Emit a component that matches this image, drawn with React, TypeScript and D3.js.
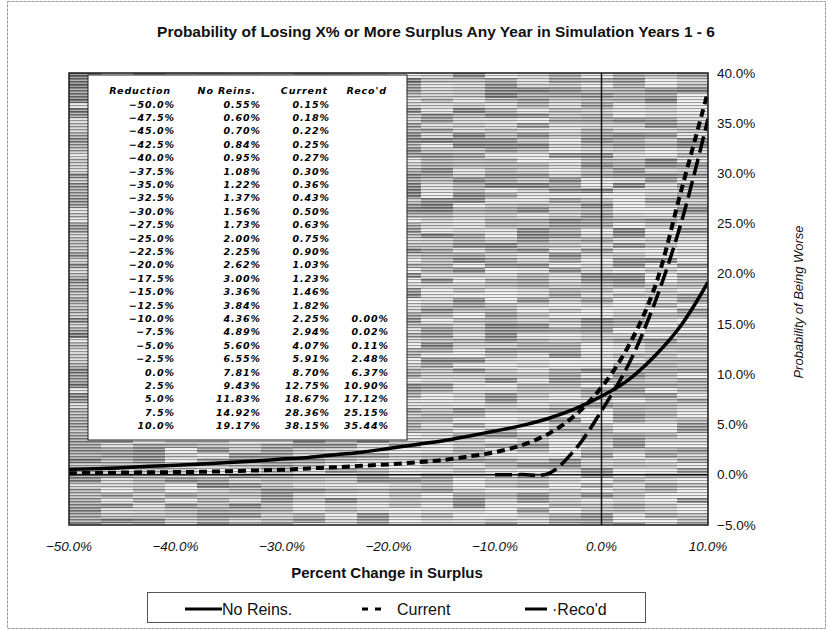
import React from "react";
import * as d3 from "d3";

// Percent change in surplus (x) and probability of a loss at least that large (y)
const reduction: number[] = [
  -50, -47.5, -45, -42.5, -40, -37.5, -35, -32.5, -30, -27.5, -25, -22.5, -20,
  -17.5, -15, -12.5, -10, -7.5, -5, -2.5, 0, 2.5, 5, 7.5, 10,
];
const noReins: number[] = [
  0.55, 0.6, 0.7, 0.84, 0.95, 1.08, 1.22, 1.37, 1.56, 1.73, 2.0, 2.25, 2.62,
  3.0, 3.36, 3.84, 4.36, 4.89, 5.6, 6.55, 7.81, 9.43, 11.83, 14.92, 19.17,
];
const current: number[] = [
  0.15, 0.18, 0.22, 0.25, 0.27, 0.3, 0.36, 0.43, 0.5, 0.63, 0.75, 0.9, 1.03,
  1.23, 1.46, 1.82, 2.25, 2.94, 4.07, 5.91, 8.7, 12.75, 18.67, 28.36, 38.15,
];
const recod: (number | null)[] = [
  null, null, null, null, null, null, null, null, null, null, null, null, null,
  null, null, null, 0.0, 0.02, 0.11, 2.48, 6.37, 10.9, 17.12, 25.15, 35.44,
];

const xTicks: number[] = [-50, -40, -30, -20, -10, 0, 10];
const yTicks: number[] = [-5, 0, 5, 10, 15, 20, 25, 30, 35, 40];
const tableHeaders: string[] = ["Reduction", "No Reins.", "Current", "Reco'd"];
const seriesNames: string[] = ["No Reins.", "Current", "Reco'd"];

const W = 827;
const H = 630;
const plot = { left: 69, right: 708, top: 73, bottom: 525 };

const x = d3.scaleLinear().domain([-50, 10]).range([plot.left, plot.right]);
const y = d3.scaleLinear().domain([-5, 40]).range([plot.bottom, plot.top]);

const pct1 = (v: number) => d3.format(".1f")(v) + "%";
const pct2 = (v: number) => d3.format(".2f")(v) + "%";

// deterministic hash for the mottled plot fill
const hash = (i: number, j: number) => {
  const s = Math.sin(i * 12.9898 + j * 78.233) * 43758.5453;
  return s - Math.floor(s);
};

function Texture() {
  const cw = 32;
  const ch = 5;
  const cells: JSX.Element[] = [];
  const cols = Math.ceil((plot.right - plot.left) / cw);
  const rows = Math.ceil((plot.bottom - plot.top) / ch);
  for (let i = 0; i < cols; i++) {
    for (let j = 0; j < rows; j++) {
      const h = hash(i, j);
      const cy = plot.top + j * ch;
      const cx = plot.left + i * cw;
      // lighter toward the lower right
      const fade =
        ((cx - plot.left) / (plot.right - plot.left)) * 0.3 +
        ((cy - plot.top) / (plot.bottom - plot.top)) * 0.35;
      const g = Math.round(105 + h * 120 + fade * 60);
      const gv = Math.min(235, g);
      cells.push(
        <rect
          key={`${i}-${j}`}
          x={cx}
          y={cy}
          width={Math.min(cw, plot.right - cx)}
          height={Math.min(ch, plot.bottom - cy)}
          fill={`rgb(${gv},${gv},${gv})`}
        />
      );
    }
  }
  return (
    <g>
      {cells}
      <rect
        x={plot.left}
        y={plot.top}
        width={plot.right - plot.left}
        height={plot.bottom - plot.top}
        fill="url(#scanlines)"
      />
    </g>
  );
}

export default function App() {
  const pts = (vals: (number | null)[]) =>
    reduction
      .map((r, i) => ({ r, v: vals[i] }))
      .filter((d) => d.v !== null) as { r: number; v: number }[];

  const line = d3
    .line<{ r: number; v: number }>()
    .x((d) => x(d.r))
    .y((d) => y(d.v))
    .curve(d3.curveCatmullRom.alpha(0.5));

  const rowY0 = 107.5;
  const rowStep = 13.4;
  const colRight = [175, 261, 330, 389];
  const headRight = [171, 256, 328, 387];

  return (
    <svg
      width={W}
      height={H}
      viewBox={`0 0 ${W} ${H}`}
      style={{ position: "absolute", left: 0, top: 0, background: "#fff" }}
      fontFamily="'Liberation Sans', Arial, sans-serif"
    >
      <defs>
        <pattern id="scanlines" patternUnits="userSpaceOnUse" width="6" height="3">
          <rect x="0" y="0" width="6" height="1" fill="#2a2a2a" opacity="0.4" />
          <rect x="0" y="2" width="6" height="1" fill="#ffffff" opacity="0.4" />
        </pattern>
        <clipPath id="plotClip">
          <rect x={plot.left} y={plot.top - 2} width={plot.right - plot.left} height={plot.bottom - plot.top + 2} />
        </clipPath>
      </defs>

      <rect x={7.5} y={1.5} width={818} height={627} fill="none" stroke="#9a9a9a" strokeWidth={1} strokeDasharray="3 1" />

      <text x={436} y={37} textAnchor="middle" fontSize={15.5} fontWeight="bold" fill="#111">
        Probability of Losing X% or More Surplus Any Year in Simulation Years 1 - 6
      </text>

      <Texture />

      {/* zero reference lines */}
      <line x1={plot.left} x2={plot.right} y1={y(0)} y2={y(0)} stroke="#111" strokeWidth={1.5} />
      <line x1={x(0)} x2={x(0)} y1={plot.top} y2={plot.bottom} stroke="#111" strokeWidth={1.5} />

      <g clipPath="url(#plotClip)">
        <path d={line(pts(noReins)) || ""} fill="none" stroke="#000" strokeWidth={3.5} />
        <path d={line(pts(current)) || ""} fill="none" stroke="#000" strokeWidth={4} strokeDasharray="8 5" />
        <path d={line(pts(recod)) || ""} fill="none" stroke="#000" strokeWidth={3.5} strokeDasharray="17 6" />
      </g>

      <rect
        x={plot.left}
        y={plot.top}
        width={plot.right - plot.left}
        height={plot.bottom - plot.top}
        fill="none"
        stroke="#1a1a1a"
        strokeWidth={1.5}
      />

      {/* data table */}
      <g>
        <rect x={88} y={75} width={319} height={365} fill="#fff" stroke="#222" strokeWidth={1} />
        <g
          fontFamily="'DejaVu Sans', sans-serif"
          fontSize={9.5}
          fontWeight="bold"
          fontStyle="italic"
          letterSpacing={0.9}
          fill="#000"
          textAnchor="end"
        >
          {tableHeaders.map((h, c) => (
            <text key={h} x={headRight[c]} y={93.5}>
              {h}
            </text>
          ))}
          {reduction.map((r, i) => {
            const yy = rowY0 + i * rowStep;
            return (
              <g key={r}>
                <text x={colRight[0]} y={yy}>{pct1(r)}</text>
                <text x={colRight[1]} y={yy}>{pct2(noReins[i])}</text>
                <text x={colRight[2]} y={yy}>{pct2(current[i])}</text>
                {recod[i] !== null && <text x={colRight[3]} y={yy}>{pct2(recod[i] as number)}</text>}
              </g>
            );
          })}
        </g>
      </g>

      {/* y axis (right side) */}
      <g fontSize={13.5} fill="#111">
        {yTicks.map((t) => (
          <text key={t} x={717} y={y(t) + 4.5}>
            {pct1(t)}
          </text>
        ))}
      </g>
      <text
        transform={`translate(803,302) rotate(-90)`}
        textAnchor="middle"
        fontSize={13}
        fontStyle="italic"
        fill="#111"
      >
        Probability of Being Worse
      </text>

      {/* x axis */}
      <g fontSize={13.5} fontStyle="italic" fill="#111" textAnchor="middle">
        {xTicks.map((t) => (
          <text key={t} x={x(t)} y={551}>
            {pct1(t)}
          </text>
        ))}
      </g>
      <text x={387} y={578} textAnchor="middle" fontSize={15} fontWeight="bold" fill="#111">
        Percent Change in Surplus
      </text>

      {/* legend */}
      <g>
        <rect x={147.5} y={592.5} width={498} height={30} fill="#fff" stroke="#555" strokeWidth={1} />
        <line x1={185} x2={222} y1={609} y2={609} stroke="#000" strokeWidth={3} />
        <text x={222} y={614.5} fontSize={16} fill="#111">{seriesNames[0]}</text>
        <line x1={362} x2={368} y1={609} y2={609} stroke="#000" strokeWidth={3} />
        <line x1={375} x2={381} y1={609} y2={609} stroke="#000" strokeWidth={3} />
        <text x={397} y={614.5} fontSize={16} fill="#111">{seriesNames[1]}</text>
        <line x1={525} x2={547} y1={609} y2={609} stroke="#000" strokeWidth={3} />
        <text x={552} y={614.5} fontSize={16} fill="#111">{"·" + seriesNames[2]}</text>
      </g>
    </svg>
  );
}
